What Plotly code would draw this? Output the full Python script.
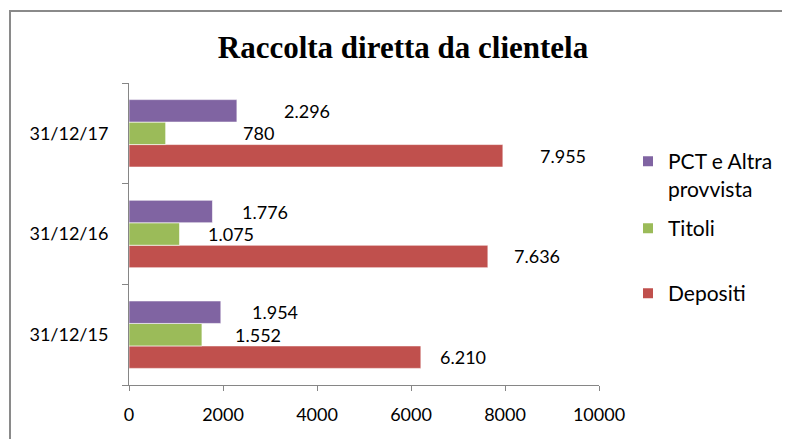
import plotly.graph_objects as go

# ---- data ----
categories = ["31/12/15", "31/12/16", "31/12/17"]
depositi = [6210, 7636, 7955]
titoli = [1552, 1075, 780]
pct = [1954, 1776, 2296]
x_ticks = [0, 2000, 4000, 6000, 8000, 10000]

series_names = ["Depositi", "Titoli", "PCT e Altra<br>provvista"]
series_values = [depositi, titoli, pct]
series_colors = ["#C0504D", "#9BBB59", "#8064A2"]

# label horizontal offsets (px) as placed in the reference
label_xshift = [[17, 24, 35], [31, 26, 75], [29, 28, 45]]

OFF = 8  # page body margin
W, H = 790, 439
PLOT_L, PLOT_R, PLOT_T, PLOT_B = 129, 599, 83, 385  # reference pixel box
ML = PLOT_L - OFF
MT = PLOT_T - OFF
PW = PLOT_R - PLOT_L
PH = PLOT_B - PLOT_T
MR = W - ML - PW
MB = H - MT - PH
BARGAP = 0.33
FONT = "Lato"
AXIS_COLOR = "#868686"

def fmt(v):
    return f"{v:,}".replace(",", ".")

def px_x(p):
    return (p - PLOT_L) / PW

def px_y(p):
    return (PLOT_B - p) / PH

fig = go.Figure()
legend_ids = ["legend3", "legend2", "legend"]
for i, (name, vals, col) in enumerate(zip(series_names, series_values, series_colors)):
    fig.add_trace(go.Bar(
        y=categories, x=vals, name=name, orientation="h",
        marker=dict(color=col, line=dict(color="white", width=0.6)),
        legend=legend_ids[i],
    ))

# data labels
nser = len(series_values)
bw = (1 - BARGAP) / nser
annotations = []
for s, vals in enumerate(series_values):
    for c, v in enumerate(vals):
        yc = c - (1 - BARGAP) / 2 + bw * (s + 0.5)
        annotations.append(dict(
            x=v, y=yc, xref="x", yref="y", text=fmt(v), showarrow=False,
            xanchor="left", yanchor="middle",
            xshift=label_xshift[s][c],
            font=dict(family=FONT, size=18, color="#000000"),
        ))

legend_style = dict(font=dict(family=FONT, size=21, color="#000000"),
                    bgcolor="rgba(0,0,0,0)", xanchor="left", yanchor="top",
                    valign="top", itemsizing="constant", tracegroupgap=0)

fig.update_layout(
    width=W, height=H, autosize=False,
    margin=dict(l=ML, r=MR, t=MT, b=MB, pad=0),
    paper_bgcolor="white", plot_bgcolor="white",
    title=dict(text="<b>Raccolta diretta da clientela</b>",
               font=dict(family="Liberation Serif", size=31, color="#000000"),
               x=(403 - OFF) / W, xanchor="center", xref="container",
               y=1 - (47 - OFF) / H, yanchor="middle", yref="container"),
    barmode="group", bargap=BARGAP, bargroupgap=0,
    xaxis=dict(range=[0, 10000], tickvals=x_ticks, ticktext=[str(t) for t in x_ticks],
               showgrid=False, zeroline=False, showline=True, linecolor=AXIS_COLOR,
               linewidth=1, ticks="outside", ticklen=5, tickcolor=AXIS_COLOR,
               ticklabelstandoff=8,
               tickfont=dict(family=FONT, size=18, color="#000000")),
    yaxis=dict(range=[-0.5, 2.5], type="category", categoryorder="array",
               categoryarray=categories, showgrid=False, zeroline=False,
               showline=True, linecolor=AXIS_COLOR, linewidth=1,
               ticks="outside", ticklen=6, tickcolor=AXIS_COLOR, tickson="boundaries",
               ticklabelstandoff=16,
               tickfont=dict(family=FONT, size=18, color="#000000")),
    legend=dict(x=px_x(628), y=px_y(141), **legend_style),
    legend2=dict(x=px_x(628), y=px_y(208), **legend_style),
    legend3=dict(x=px_x(628), y=px_y(273), **legend_style),
    annotations=annotations,
    shapes=[dict(type="rect", xref="paper", yref="paper",
                 x0=px_x(10), x1=px_x(W + 20), y0=px_y(H + 20), y1=px_y(11),
                 line=dict(color="#8a8a8a", width=2), fillcolor="rgba(0,0,0,0)",
                 layer="below")],
    showlegend=True,
)

fig.write_html("out.html")
